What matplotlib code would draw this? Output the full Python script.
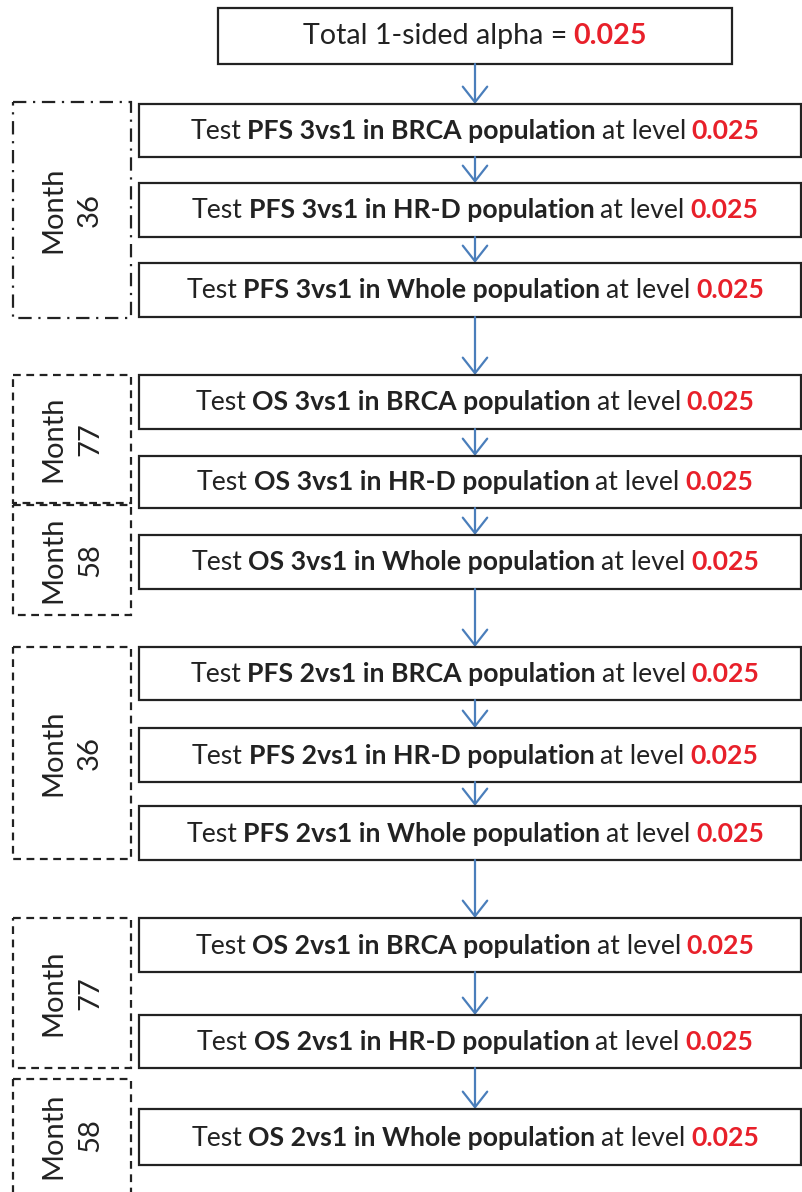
import matplotlib
matplotlib.use("Agg")
import matplotlib.pyplot as plt
from matplotlib.patches import Rectangle, FancyArrowPatch
from matplotlib.offsetbox import TextArea, HPacker, AnnotationBbox

# ---- data ----
alpha_total = "0.025"
endpoints = ["PFS 3vs1", "PFS 3vs1", "PFS 3vs1",
             "OS 3vs1", "OS 3vs1", "OS 3vs1",
             "PFS 2vs1", "PFS 2vs1", "PFS 2vs1",
             "OS 2vs1", "OS 2vs1", "OS 2vs1"]
populations = ["BRCA", "HR-D", "Whole"] * 4
levels = ["0.025"] * 12
group_months = ["36", "77", "58", "36", "77", "58"]
group_styles = ["dashdot", "dashed", "dashed", "dashed", "dashed", "dashed"]

# ---- layout (pixel coordinates) ----
W, H = 803, 1192
box_tb = [(104, 157), (183, 237), (263, 317),
          (375, 429), (456, 508), (535, 589),
          (647, 700), (728, 782), (806, 860),
          (918, 972), (1015, 1068), (1109, 1165)]
group_tb = [(102, 318), (375, 503), (505, 615), (647, 859), (918, 1068), (1079, 1200)]
box_x0, box_x1 = 139, 801
grp_x0, grp_x1 = 13, 131
top_box = (218, 732, 8, 64)
arrow_x = 475
text_cx = 475

DARK = "#222222"
RED = "#e8202a"
BLUE = "#4a7ebb"
FONT = "Lato"
FS = 19.2
FS_TOP = 20.6

fig = plt.figure(figsize=(W / 100, H / 100), dpi=100)
ax = fig.add_axes([0, 0, 1, 1])
ax.set_xlim(0, W)
ax.set_ylim(H, 0)
ax.axis("off")


def rich_line(parts, cx, cy, fs):
    areas = []
    for txt, weight, color in parts:
        areas.append(TextArea(txt, textprops=dict(fontsize=fs, fontweight=weight,
                                                  color=color, family=FONT)))
    pack = HPacker(children=areas, align="baseline", pad=0, sep=fs * 0.22)
    ab = AnnotationBbox(pack, (cx, cy), xycoords="data", frameon=False,
                        box_alignment=(0.5, 0.5), pad=0)
    ax.add_artist(ab)


def arrow(y0, y1):
    a = FancyArrowPatch((arrow_x, y0), (arrow_x, y1), arrowstyle="->,head_length=7,head_width=5.5",
                        color=BLUE, lw=1.6, shrinkA=0, shrinkB=0, mutation_scale=1.6)
    ax.add_patch(a)


# top box
x0, x1, y0, y1 = top_box
ax.add_patch(Rectangle((x0, y0), x1 - x0, y1 - y0, fill=False, ec=DARK, lw=1.6))
rich_line([("Total 1-sided alpha =", "normal", DARK), (alpha_total, "bold", RED)],
          text_cx, (y0 + y1) / 2, FS_TOP)
arrow(y1, box_tb[0][0])

# test boxes
for i, ((t, b), ep, pop, lv) in enumerate(zip(box_tb, endpoints, populations, levels)):
    ax.add_patch(Rectangle((box_x0, t), box_x1 - box_x0, b - t, fill=False, ec=DARK, lw=1.6))
    rich_line([("Test", "normal", DARK),
               (f"{ep} in {pop} population", "bold", DARK),
               ("at level", "normal", DARK),
               (lv, "bold", RED)], text_cx, (t + b) / 2 + 1, FS)
    if i + 1 < len(box_tb):
        arrow(b, box_tb[i + 1][0])

# group boxes
for (t, b), m, ls in zip(group_tb, group_months, group_styles):
    if ls == "dashdot":
        dashes = (0, (6, 3, 1, 3))
    else:
        dashes = (0, (3.5, 2.5))
    ax.add_patch(Rectangle((grp_x0, t), grp_x1 - grp_x0, b - t, fill=False, ec=DARK,
                           lw=1.6, linestyle=dashes))
    ax.text((grp_x0 + grp_x1) / 2, (t + min(b, H)) / 2, f"Month\n{m}", rotation=90,
            ha="center", va="center", multialignment="center", fontsize=21,
            color=DARK, family=FONT, linespacing=1.5)

fig.savefig("out.png", dpi=100)
